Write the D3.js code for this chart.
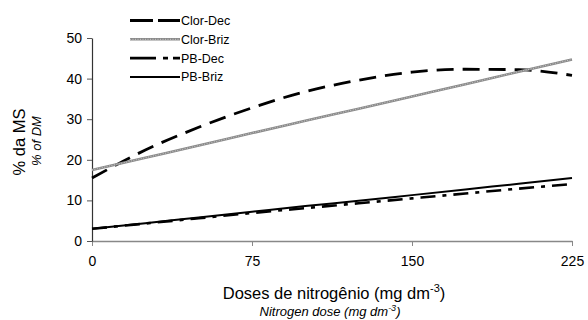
<!DOCTYPE html>
<html>
<head>
<meta charset="utf-8">
<script src="https://cdn.jsdelivr.net/npm/d3@7"></script>
<style>
  body { margin: 0; background: #fff; }
  svg { font-family: "Liberation Sans", Arial, sans-serif; }
</style>
</head>
<body>
<div id="chart"></div>
<script>
const doses = [0, 25, 50, 75, 100, 125, 150, 175, 200, 225];
const clorDec = [15.5, 22.4, 28.0, 32.8, 36.8, 39.6, 41.6, 42.3, 42.2, 40.8];
const clorBriz = [17.5, 20.5, 23.5, 26.6, 29.6, 32.6, 35.6, 38.6, 41.7, 44.7];
const pbDec = [3.0, 4.3, 5.6, 6.9, 8.1, 9.3, 10.5, 11.7, 12.9, 14.0];
const pbBriz = [3.0, 4.4, 5.8, 7.2, 8.6, 9.9, 11.3, 12.7, 14.1, 15.5];

const xTicks = [0, 75, 150, 225];
const yTicks = [0, 10, 20, 30, 40, 50];
const seriesNames = ["Clor-Dec", "Clor-Briz", "PB-Dec", "PB-Briz"];

const width = 588, height = 320;
const margin = { left: 92, right: 16, top: 38, bottom: 79 };
const fontFam = "'Liberation Sans', Arial, sans-serif";

const svg = d3.select("#chart").append("svg")
    .attr("width", width)
    .attr("height", height);

const x = d3.scaleLinear().domain([0, 225]).range([margin.left, width - margin.right]);
const y = d3.scaleLinear().domain([0, 50]).range([height - margin.bottom, margin.top]);

// axes
const xAxis = svg.append("g")
    .attr("transform", "translate(0," + y(0) + ")")
    .call(d3.axisBottom(x).tickValues(xTicks).tickSize(5).tickSizeOuter(0).tickPadding(10));
xAxis.select(".domain").attr("stroke", "#888").attr("stroke-width", 1.5);
xAxis.selectAll(".tick line").attr("stroke", "#888");
xAxis.selectAll("text").attr("font-size", 14).attr("fill", "#000").attr("font-family", fontFam);

const yAxis = svg.append("g")
    .attr("transform", "translate(" + x(0) + ",0)")
    .call(d3.axisLeft(y).tickValues(yTicks).tickSize(5).tickSizeOuter(0).tickPadding(5));
yAxis.select(".domain").attr("stroke", "#333").attr("stroke-width", 1.2);
yAxis.selectAll(".tick line").attr("stroke", "#555");
yAxis.selectAll("text").attr("font-size", 14).attr("fill", "#000").attr("font-family", fontFam);

// series styles
const styles = {
    "Clor-Dec": { stroke: "#000", width: 2.8, dash: "17,9" },
    "Clor-Briz": { stroke: "#8a8a8a", width: 2.6, dash: null },
    "PB-Dec": { stroke: "#000", width: 2.6, dash: "15,7,4,7" },
    "PB-Briz": { stroke: "#000", width: 2, dash: null }
};
const seriesData = {
    "Clor-Dec": clorDec,
    "Clor-Briz": clorBriz,
    "PB-Dec": pbDec,
    "PB-Briz": pbBriz
};

const line = d3.line()
    .x((d, i) => x(doses[i]))
    .y(d => y(d))
    .curve(d3.curveMonotoneX);

seriesNames.forEach(name => {
    const s = styles[name];
    svg.append("path")
        .datum(seriesData[name])
        .attr("fill", "none")
        .attr("stroke", s.stroke)
        .attr("stroke-width", s.width)
        .attr("stroke-dasharray", s.dash)
        .attr("d", line);
    if (name === "Clor-Briz") {
        // light texture over the grey line
        svg.append("path")
            .datum(seriesData[name])
            .attr("fill", "none")
            .attr("stroke", "#d8d8d8")
            .attr("stroke-width", 0.8)
            .attr("stroke-dasharray", "1,1.5")
            .attr("d", line);
    }
});

// legend
const legend = svg.append("g");
seriesNames.forEach((name, i) => {
    const s = styles[name];
    const ly = 20.5 + i * 18.8;
    legend.append("line")
        .attr("x1", 130).attr("x2", 180)
        .attr("y1", ly).attr("y2", ly)
        .attr("stroke", s.stroke)
        .attr("stroke-width", s.width)
        .attr("stroke-dasharray", name === "Clor-Dec" ? "23,5" : name === "PB-Dec" ? "26,7,5,5" : s.dash);
    if (name === "Clor-Briz") {
        legend.append("line")
            .attr("x1", 130).attr("x2", 180)
            .attr("y1", ly).attr("y2", ly)
            .attr("stroke", "#d8d8d8")
            .attr("stroke-width", 0.8)
            .attr("stroke-dasharray", "1,1.5");
    }
    legend.append("text")
        .attr("x", 181).attr("y", ly + 4.5)
        .attr("font-size", 12.5)
        .text(name);
});

// x title
const xt = svg.append("text")
    .attr("x", 334).attr("y", 299)
    .attr("text-anchor", "middle")
    .attr("font-size", 16.5);
xt.append("tspan").text("Doses de nitrogênio (mg dm");
xt.append("tspan").attr("dy", -7).attr("font-size", 11).text("-3");
xt.append("tspan").attr("dy", 7).text(")");

const xt2 = svg.append("text")
    .attr("x", 330).attr("y", 316)
    .attr("text-anchor", "middle")
    .attr("font-size", 13)
    .attr("font-style", "italic");
xt2.append("tspan").text("Nitrogen dose (mg dm");
xt2.append("tspan").attr("dy", -5).attr("font-size", 9).text("-3");
xt2.append("tspan").attr("dy", 5).text(")");

// y title
svg.append("text")
    .attr("transform", "translate(25,142) rotate(-90)")
    .attr("text-anchor", "middle")
    .attr("font-size", 16.5)
    .text("% da MS");
svg.append("text")
    .attr("transform", "translate(41,141) rotate(-90)")
    .attr("text-anchor", "middle")
    .attr("font-size", 13)
    .attr("font-style", "italic")
    .text("% of DM");
</script>
</body>
</html>
